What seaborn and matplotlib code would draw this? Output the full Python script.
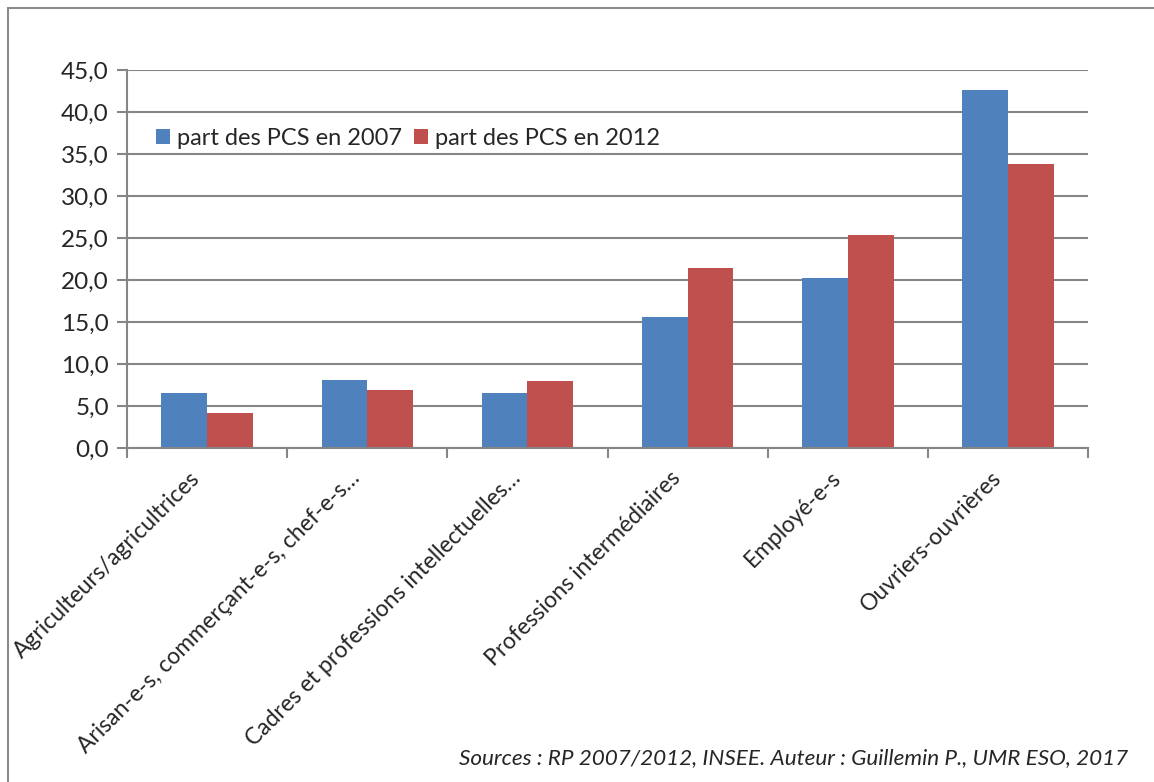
import matplotlib
matplotlib.use("Agg")
import matplotlib.pyplot as plt
import matplotlib.transforms as mtransforms
import pandas as pd
import seaborn as sns
from matplotlib.patches import Rectangle

# Data
categories = ['Agriculteurs/agricultrices',
              'Arisan-e-s, commerçant-e-s, chef-e-s…',
              'Cadres et professions intellectuelles…',
              'Professions intermédiaires',
              'Employé-e-s',
              'Ouvriers-ouvrières']
part_2007 = [6.5, 8.1, 6.5, 15.6, 20.3, 42.6]
part_2012 = [4.2, 6.9, 8.0, 21.4, 25.4, 33.8]
series = ['part des PCS en 2007', 'part des PCS en 2012']
colors = ['#4F81BD', '#C0504D']

df = pd.DataFrame({
    'cat': categories * 2,
    'val': part_2007 + part_2012,
    'serie': [series[0]] * len(categories) + [series[1]] * len(categories),
})

sns.set_style('white')
plt.rcParams['font.family'] = ['Lato', 'DejaVu Sans']

fig = plt.figure(figsize=(11.54, 7.82), dpi=100)
ax = fig.add_axes([0.110, 0.427, 0.833, 0.4835])

sns.barplot(data=df, x='cat', y='val', hue='serie', palette=colors,
            width=0.57, saturation=1, linewidth=0, ax=ax)

grey = '#868686'
ax.set_ylim(0, 45)
ax.set_xlim(-0.5, len(categories) - 0.5)
ax.set_yticks(range(0, 50, 5))
ax.set_yticklabels([f'{v},0' for v in range(0, 50, 5)], fontsize=17.5)
ax.yaxis.grid(True, color=grey, linewidth=1.5)
ax.set_axisbelow(True)

ax.set_xticks(range(len(categories)))
ax.set_xticklabels(categories, rotation=45, ha='right', rotation_mode='anchor', fontsize=16.5)
ax.tick_params(axis='x', length=0, pad=14)
# Excel places the rotated labels slightly left of the category centre
shift = mtransforms.ScaledTranslation(-18 / 100, 0, fig.dpi_scale_trans)
for lab in ax.get_xticklabels():
    lab.set_transform(lab.get_transform() + shift)
ax.set_xticks([i - 0.5 for i in range(len(categories) + 1)], minor=True)
ax.tick_params(axis='x', which='minor', length=7, width=1.5, color=grey, direction='out', bottom=True)
ax.tick_params(axis='y', length=7, width=1.5, color=grey, direction='out', left=True, pad=6)
ax.set_xlabel('')
ax.set_ylabel('')

for s in ['top', 'right']:
    ax.spines[s].set_visible(False)
for s in ['left', 'bottom']:
    ax.spines[s].set_color(grey)
    ax.spines[s].set_linewidth(1.5)

ax.legend(loc='upper left', bbox_to_anchor=(0.135, 0.836), bbox_transform=fig.transFigure,
          ncol=2, frameon=False, fontsize=17, handlelength=0.6, handleheight=0.6,
          handletextpad=0.3, columnspacing=0.5, borderaxespad=0, borderpad=0)

fig.text(0.978, 0.018, 'Sources : RP 2007/2012, INSEE. Auteur : Guillemin P., UMR ESO, 2017',
         ha='right', va='bottom', fontsize=16.2, style='italic')

# outer frame like the original document border
fig.patches.append(Rectangle((8 / 1154, -0.1), 1.2, 1.1 - 8 / 782,
                             transform=fig.transFigure, fill=False,
                             edgecolor='#8c8c8c', linewidth=1.5))

fig.savefig('out.png', dpi=100)
